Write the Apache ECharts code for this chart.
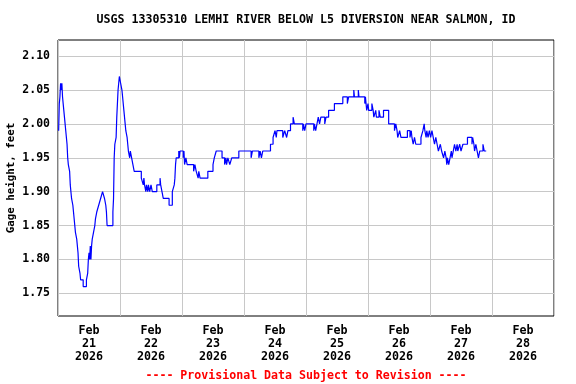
<!DOCTYPE html>
<html>
<head>
<meta charset="utf-8">
<script src="https://cdn.jsdelivr.net/npm/echarts@6/dist/echarts.min.js"></script>
<style>html,body{margin:0;padding:0;background:#fff}#c{width:576px;height:384px}</style>
</head>
<body>
<div id="c"></div>
<script>
var titleText = 'USGS 13305310 LEMHI RIVER BELOW L5 DIVERSION NEAR SALMON, ID';
var footText = '---- Provisional Data Subject to Revision ----';
var yName = 'Gage height, feet';
var monthLabel = 'Feb';
var yearLabel = '2026';
var dayLabels = ['21', '22', '23', '24', '25', '26', '27', '28'];
var yTicks = [1.75, 1.80, 1.85, 1.90, 1.95, 2.00, 2.05, 2.10];
// hours since Feb 21 00:00
var hours = [0.25,0.5,0.75,1,1.25,1.5,1.75,2,2.25,2.5,2.75,3,3.25,3.5,3.75,4,4.5,4.75,5,5.25,5.75,6,6.25,6.75,7.25,7.75,8,8.5,8.75,9.75,11,11.5,11.75,12,12.25,12.5,12.75,13,13.25,13.75,14.25,14.5,15,15.75,16.5,17.25,18,18.5,18.75,19,21.25,21.5,21.75,22,22.5,22.75,23.25,23.5,23.75,24.25,24.75,25,25.5,26,26.25,26.75,27,27.25,27.75,28,28.5,29,29.5,32.25,33,33.25,33.5,34,34.25,34.75,35,35.5,36,36.5,38.25,39.5,39.75,40.25,40.75,43,44.25,45,45.25,45.5,45.75,46.75,47,47.25,48.5,48.75,49,49.5,50,52.5,53,53.5,54.25,54.5,55,58,60,60.5,61.25,63.5,64.5,65,65.25,65.75,66.5,67.25,70,74.75,75.25,77.75,78.25,78.75,79.25,82.25,83.25,84,84.5,84.75,87,87.75,88.5,89,90,91,91.5,94.75,95,95.5,96,99,99.25,99.75,100.25,100.75,101.25,101.75,103.25,103.75,104.75,107,110.25,112,112.5,114.5,114.75,116.25,116.5,118.75,119,119.5,120,120.25,121.5,122,122.25,123,123.25,124.25,124.75,126,128,130.25,130.75,131.25,131.5,132.25,132.75,135.25,136.25,136.75,137,137.5,138,138.5,140.5,141.25,141.75,142,142.5,142.75,143.25,143.75,144.25,144.75,145.25,145.75,146.25,146.75,147.25,148,148.5,149.25,149.75,150.25,150.5,150.75,151.25,151.75,152.25,152.5,153,153.5,154,154.5,154.75,155.5,156,156.75,158.5,160.25,160.5,161,161.25,161.75,162.25,162.75,163.25,164.5,165,165.75];
var gage = [1.99,2.03,2.04,2.06,2.05,2.06,2.04,2.03,2.02,2.01,2.00,1.99,1.98,1.97,1.95,1.94,1.93,1.91,1.90,1.89,1.88,1.87,1.86,1.84,1.83,1.81,1.79,1.78,1.77,1.76,1.77,1.78,1.80,1.81,1.80,1.82,1.80,1.82,1.83,1.84,1.85,1.86,1.87,1.88,1.89,1.90,1.89,1.88,1.87,1.85,1.87,1.89,1.95,1.97,1.98,2.01,2.05,2.06,2.07,2.06,2.05,2.04,2.02,2.00,1.99,1.98,1.97,1.96,1.95,1.96,1.95,1.94,1.93,1.92,1.91,1.92,1.91,1.90,1.91,1.90,1.91,1.90,1.91,1.90,1.91,1.92,1.91,1.90,1.89,1.88,1.90,1.91,1.92,1.94,1.95,1.96,1.95,1.96,1.95,1.96,1.94,1.95,1.94,1.93,1.94,1.93,1.92,1.93,1.92,1.93,1.94,1.95,1.96,1.95,1.94,1.95,1.94,1.95,1.94,1.95,1.96,1.95,1.96,1.95,1.96,1.95,1.96,1.97,1.98,1.99,1.98,1.99,1.98,1.99,1.98,1.99,2.00,2.01,2.00,1.99,2.00,1.99,2.00,1.99,2.00,1.99,2.00,2.01,2.00,2.01,2.00,2.01,2.02,2.03,2.04,2.03,2.04,2.05,2.04,2.05,2.04,2.03,2.04,2.02,2.03,2.02,2.03,2.02,2.01,2.02,2.01,2.02,2.01,2.02,2.00,1.99,2.00,1.99,1.98,1.99,1.98,1.99,1.98,1.99,1.98,1.97,1.98,1.97,1.98,1.99,2.00,1.99,1.98,1.99,1.98,1.99,1.98,1.99,1.98,1.97,1.98,1.97,1.96,1.97,1.96,1.95,1.96,1.95,1.94,1.95,1.94,1.95,1.96,1.95,1.96,1.97,1.96,1.97,1.96,1.97,1.96,1.97,1.98,1.97,1.98,1.97,1.96,1.97,1.96,1.95,1.96,1.97,1.96,1.96];

var FONT = 'DejaVu Sans Mono';
var chart = echarts.init(document.getElementById('c'), null, {renderer: 'canvas'});
var labelHours = dayLabels.map(function (d, i) { return 12 + 24 * i; });
chart.setOption({
  animation: false,
  backgroundColor: '#fff',
  title: [{
    text: titleText,
    left: 306, top: 14, textAlign: 'center', padding: 0,
    textStyle: {fontFamily: FONT, fontWeight: 'bold', fontSize: 11.6, color: '#000', lineHeight: 12}
  }, {
    text: footText,
    left: 306, top: 370, textAlign: 'center', padding: 0,
    textStyle: {fontFamily: FONT, fontWeight: 'bold', fontSize: 11.6, color: '#ff0000', lineHeight: 12}
  }],
  grid: {left: 58, right: 22, top: 40, bottom: 68, containLabel: false, outerBoundsMode: 'none',
    show: true, borderColor: '#000', borderWidth: 1, backgroundColor: 'transparent'},
  xAxis: {
    type: 'value', min: 0, max: 192, interval: 24,
    axisLine: {show: false}, axisTick: {show: false},
    splitLine: {show: true, lineStyle: {color: '#c8c8c8', width: 1}},
    axisLabel: {
      customValues: labelHours,
      margin: 8, color: '#000', fontFamily: FONT, fontWeight: 'bold', fontSize: 11.7, lineHeight: 13,
      formatter: function (v) {
        var i = Math.round((v - 12) / 24);
        return monthLabel + '\n' + dayLabels[i] + '\n' + yearLabel;
      }
    }
  },
  yAxis: {
    type: 'value', min: 1.7166, max: 2.1238,
    name: yName, nameLocation: 'middle', nameRotate: 90, nameGap: 41, nameMoveOverlap: false,
    nameTextStyle: {fontFamily: FONT, fontWeight: 'bold', fontSize: 10.8, color: '#000'},
    axisLine: {show: false},
    axisTick: {show: false, customValues: yTicks},
    splitLine: {show: true, lineStyle: {color: '#c8c8c8', width: 1}},
    axisLabel: {
      customValues: yTicks, margin: 8, color: '#000', fontFamily: FONT, fontWeight: 'bold', fontSize: 11.5,
      formatter: function (v) { return v.toFixed(2); }
    }
  },
  series: [{
    type: 'line', step: 'end', showSymbol: false, symbol: 'none',
    lineStyle: {color: '#0000ff', width: 1.2},
    data: hours.map(function (h, i) { return [h, gage[i]]; })
  }]
});
</script>
</body>
</html>
